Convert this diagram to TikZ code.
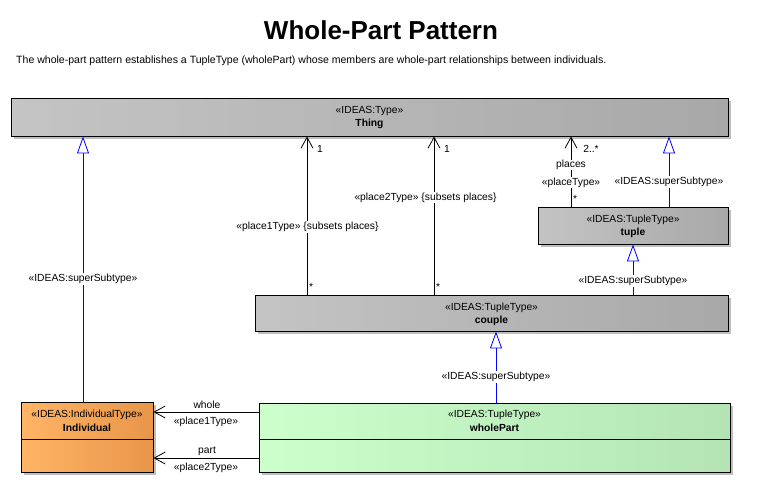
\documentclass[tikz,border=0pt]{standalone}
\usepackage{fontspec}
\setmainfont{Liberation Sans}
\usetikzlibrary{arrows.meta,shadows}
\definecolor{graylight}{HTML}{C4C4C4}
\definecolor{graydark}{HTML}{A8A8A8}
\definecolor{orangelight}{HTML}{FFB466}
\definecolor{orangedark}{HTML}{E8954A}
\definecolor{greenlight}{HTML}{CCFFCC}
\definecolor{greendark}{HTML}{B4E4B4}
\definecolor{genblue}{HTML}{0000FF}
\definecolor{shadowgray}{HTML}{BEBEBE}
\tikzset{
  umlbox/.style={draw=black, line width=0.9pt, inner sep=0pt,
    drop shadow={shadow xshift=3pt, shadow yshift=-3pt, opacity=1, fill=shadowgray}},
  graybox/.style={umlbox, left color=graylight, right color=graydark},
  orangebox/.style={umlbox, left color=orangelight, right color=orangedark},
  greenbox/.style={umlbox, left color=greenlight, right color=greendark},
  lbl/.style={font=\fontsize{10.3}{12}\selectfont, inner sep=1pt, text=black},
  lblw/.style={lbl, fill=white},
  bold/.style={lbl, font=\fontsize{10.3}{12}\selectfont\bfseries},
  gen/.style={draw=genblue, line width=0.8pt, -{Triangle[length=17pt,width=12pt,fill=white]}},
  assoc/.style={draw=black, line width=0.8pt, -{Straight Barb[length=11pt,width=12pt]}},
  divider/.style={draw=black, line width=0.9pt}
}
\begin{document}
\begin{tikzpicture}[x=1pt,y=-1pt]
\useasboundingbox (0,0) rectangle (759,482);
% title
\node[font=\fontsize{26}{30}\selectfont\bfseries, inner sep=0pt] (title) at (381,30) {Whole-Part Pattern};
\node[font=\fontsize{10.55}{12}\selectfont, anchor=west, inner sep=0pt] (subtitle) at (16,61) {The whole-part pattern establishes a TupleType (wholePart) whose members are whole-part relationships between individuals.};
% boxes
\node[graybox, minimum width=717pt, minimum height=38pt] (thing) at (369.5,117) {};
\node[graybox, minimum width=190pt, minimum height=37pt] (tuple) at (633,225.5) {};
\node[graybox, minimum width=473pt, minimum height=36pt] (couple) at (491.5,313) {};
\node[greenbox, minimum width=471pt, minimum height=69pt] (wholepart) at (494.5,437.5) {};
\node[orangebox, minimum width=132pt, minimum height=70pt] (individual) at (87,437) {};
\coordinate (dv) at (0,439);
\draw[divider] (wholepart.west |- dv) -- (wholepart.east |- dv);
\draw[divider] (individual.west |- dv) -- (individual.east |- dv);
% box texts
\node[lbl] (thingst) at (369.5,111) {«IDEAS:Type»};
\node[bold] (thingnm) at (369.5,124) {Thing};
\node[lbl] (tuplest) at (633,220) {«IDEAS:TupleType»};
\node[bold] (tuplenm) at (633,233) {tuple};
\node[lbl] (couplest) at (491.5,308) {«IDEAS:TupleType»};
\node[bold] (couplenm) at (491.5,321) {couple};
\node[lbl] (wpst) at (494.5,415) {«IDEAS:TupleType»};
\node[bold] (wpnm) at (494.5,428) {wholePart};
\node[lbl] (indst) at (87,415) {«IDEAS:IndividualType»};
\node[bold] (indnm) at (87,428) {Individual};
% connector x positions
\coordinate (xg1) at (83,0);
\coordinate (xp1) at (307,0);
\coordinate (xp2) at (434,0);
\coordinate (xpl) at (571,0);
\coordinate (xg2) at (669,0);
\coordinate (xg3) at (633,0);
\coordinate (xg4) at (496,0);
\coordinate (yw) at (0,412);
\coordinate (yp) at (0,458);
% generalizations
\draw[gen] (individual.north -| xg1) -- (thing.south -| xg1);
\draw[gen] (tuple.north -| xg2) -- (thing.south -| xg2);
\draw[gen] (couple.north -| xg3) -- (tuple.south -| xg3);
\draw[gen] (wholepart.north -| xg4) -- (couple.south -| xg4);
% associations
\draw[assoc] (couple.north -| xp1) -- (thing.south -| xp1);
\draw[assoc] (couple.north -| xp2) -- (thing.south -| xp2);
\draw[assoc] (tuple.north -| xpl) -- (thing.south -| xpl);
\draw[assoc] (wholepart.west |- yw) -- (individual.east |- yw);
\draw[assoc] (wholepart.west |- yp) -- (individual.east |- yp);
% connector labels
\node[lblw] (g1lbl) at (83,279) {«IDEAS:superSubtype»};
\node[lblw] (g2lbl) at (669,182) {«IDEAS:superSubtype»};
\node[lblw] (g3lbl) at (633,281) {«IDEAS:superSubtype»};
\node[lblw] (g4lbl) at (496,377) {«IDEAS:superSubtype»};
\node[lblw] (p1lbl) at (307.5,227) {«place1Type» \{subsets places\}};
\node[lbl] (p1one) at (320,149) {1};
\node[lbl] (p1star) at (311,287) {*};
\node[lblw] (p2lbl) at (425.5,197.5) {«place2Type» \{subsets places\}};
\node[lbl] (p2one) at (447,149) {1};
\node[lbl] (p2star) at (438,287) {*};
\node[lblw, inner sep=0.5pt] (pllbl) at (571,165) {places};
\node[lblw, inner sep=0.5pt] (plst) at (571,182.5) {«placeType»};
\node[lbl] (plmult) at (591,149) {2..*};
\node[lbl] (plstar) at (575,199) {*};
\node[lbl] (wlbl) at (207,405) {whole};
\node[lbl] (wst) at (206,422) {«place1Type»};
\node[lbl] (plbl) at (207,451) {part};
\node[lbl] (pst) at (206,468) {«place2Type»};
\end{tikzpicture}
\end{document}
